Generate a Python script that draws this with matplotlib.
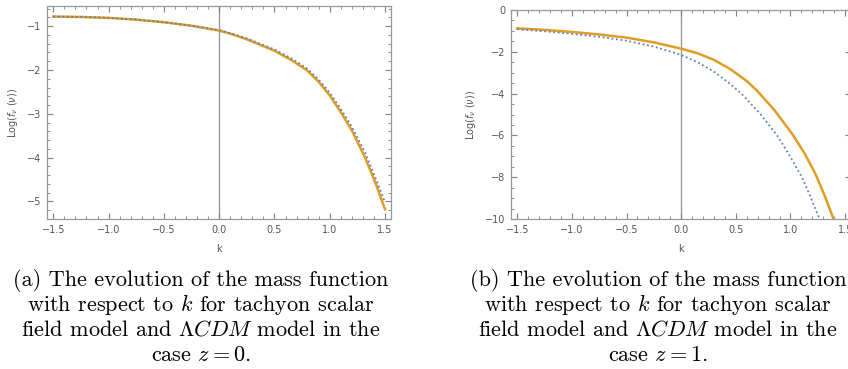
import matplotlib
matplotlib.use("Agg")
import matplotlib.pyplot as plt
from matplotlib.ticker import MultipleLocator

plt.rcParams['mathtext.fontset'] = 'cm'

## data
# (a) z = 0
k_a = [-1.5, -1.25, -1.0, -0.75, -0.5, -0.25, 0.0, 0.1, 0.25, 0.5, 0.65, 0.79, 0.9,
       1.0, 1.11, 1.2, 1.32, 1.42, 1.5]
tach_a = [-0.78, -0.79, -0.81, -0.85, -0.91, -0.99, -1.10, -1.17, -1.30, -1.56, -1.77,
          -2.00, -2.27, -2.58, -3.00, -3.38, -4.00, -4.62, -5.18]
lcdm_a = [-0.78, -0.79, -0.81, -0.85, -0.91, -0.99, -1.09, -1.16, -1.28, -1.53, -1.73,
          -1.955, -2.22, -2.52, -2.93, -3.295, -3.89, -4.50, -5.02]

# (b) z = 1
k_b_tach = [-1.5, -1.25, -1.0, -0.75, -0.5, -0.25, 0.0, 0.15, 0.3, 0.45, 0.6, 0.69,
            0.85, 1.02, 1.13, 1.226, 1.31, 1.394]
tach_b = [-0.88, -0.95, -1.05, -1.17, -1.32, -1.55, -1.85, -2.07, -2.39, -2.83, -3.40,
          -3.84, -4.77, -5.96, -6.87, -7.82, -8.85, -10.0]
k_b_lcdm = [-1.5, -1.25, -1.0, -0.75, -0.5, -0.25, 0.0, 0.15, 0.3, 0.45, 0.551, 0.72,
            0.878, 0.99, 1.10, 1.18, 1.266]
lcdm_b = [-0.92, -1.02, -1.14, -1.28, -1.47, -1.75, -2.15, -2.50, -2.95, -3.55, -4.00,
          -4.95, -6.00, -6.95, -7.95, -8.90, -10.0]

captions = [
    ["(a) The evolution of the mass function",
     "with respect to $k$ for tachyon scalar",
     "field model and $\\Lambda CDM$ model in the",
     "case $z = 0$."],
    ["(b) The evolution of the mass function",
     "with respect to $k$ for tachyon scalar",
     "field model and $\\Lambda CDM$ model in the",
     "case $z = 1$."],
]

orange = '#E19C24'
blue = '#5E81B5'
gray = '#7f7f7f'

fig = plt.figure(figsize=(8.48, 3.69), dpi=100)
ax1 = fig.add_axes([0.0554, 0.4065, 0.4057, 0.5772])
ax2 = fig.add_axes([0.6026, 0.4065, 0.4010, 0.5664])

def style(ax, ylim, ymaj, ymin):
    ax.set_xlim(-1.557, 1.554)
    ax.set_ylim(*ylim)
    ax.axvline(0, color='#999999', lw=1.0, zorder=1)
    ax.xaxis.set_major_locator(MultipleLocator(0.5))
    ax.xaxis.set_minor_locator(MultipleLocator(0.1))
    ax.yaxis.set_major_locator(MultipleLocator(ymaj))
    ax.yaxis.set_minor_locator(MultipleLocator(ymin))
    ax.xaxis.set_major_formatter(plt.FuncFormatter(lambda v, p: ('%.1f' % v).replace('-', '\u2212')))
    ax.yaxis.set_major_formatter(plt.FuncFormatter(lambda v, p: ('%d' % round(v)).replace('-', '\u2212')))
    ax.tick_params(which='both', direction='in', top=True, right=True, color=gray,
                   labelcolor='#555555', labelsize=7)
    ax.tick_params(which='major', length=4.5, width=0.8, pad=4)
    ax.tick_params(which='minor', length=2.5, width=0.6)
    for s in ax.spines.values():
        s.set_color('#999999')
        s.set_linewidth(0.9)
    ax.set_xlabel('k', fontsize=7, color='#555555', labelpad=7)
    ax.set_ylabel('Log($f_\\nu$ ($\\nu$))', fontsize=7, color='#555555',
                  math_fontfamily='dejavusans', labelpad=5)

style(ax1, (-5.40, -0.54), 1, 0.2)
ax1.plot(k_a, lcdm_a, color=blue, lw=1.3, ls=(0, (1, 1.5)), zorder=3)
ax1.plot(k_a, tach_a, color=orange, lw=1.8, zorder=2)

style(ax2, (-10, 0), 2, 0.5)
ax2.plot(k_b_lcdm, lcdm_b, color=blue, lw=1.3, ls=(0, (1, 1.5)), zorder=3)
ax2.plot(k_b_tach, tach_b, color=orange, lw=1.8, zorder=2)

## captions, one line at a time
baselines = [286, 311, 336, 361]
for xc, cap in zip([201, 658], captions):
    for yb, line in zip(baselines, cap):
        fig.text(xc / 848, 1 - yb / 369, line, ha='center', va='baseline',
                 fontsize=16, family='cmr10')

fig.savefig('out.png', dpi=100)
